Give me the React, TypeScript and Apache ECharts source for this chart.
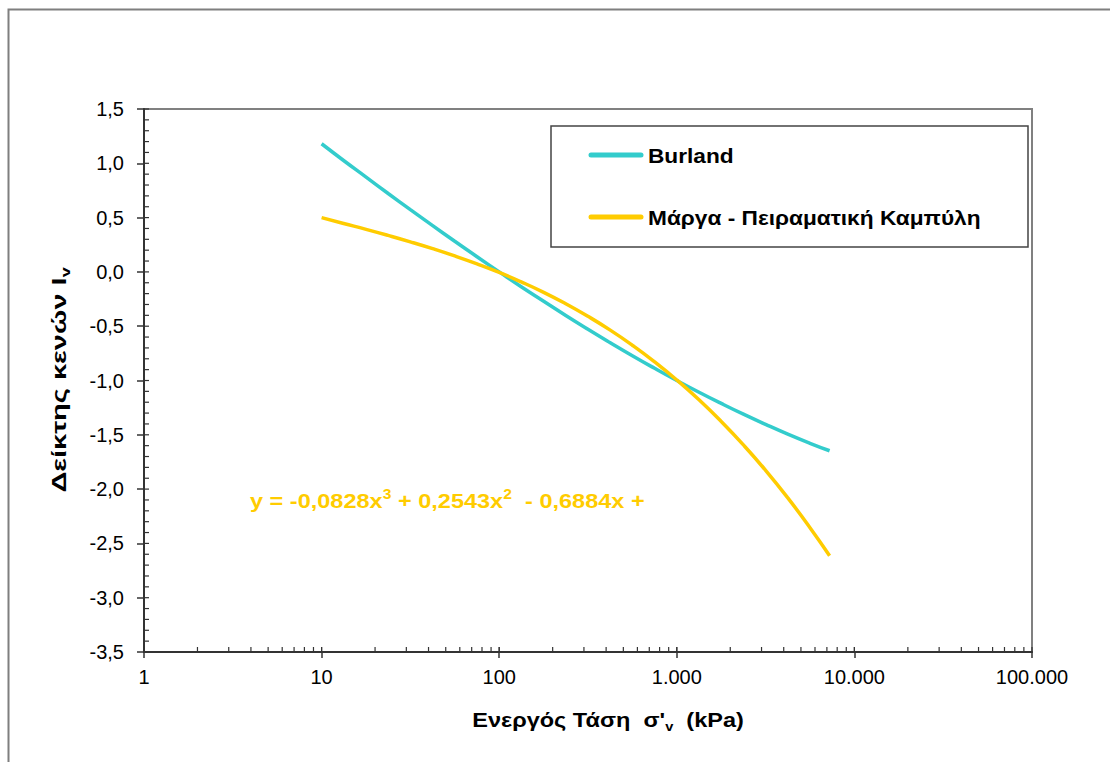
import React, { useEffect, useRef } from "react";
import * as echarts from "echarts";

// Effective stress σ'v (kPa)
const sigma = [10, 13.3, 17.8, 23.7, 31.6, 42.2, 56.2, 75, 100, 133, 178, 237, 316, 422, 562, 750, 1000, 1334, 1778, 2371, 3162, 4217, 5623, 7250];
// Burland intrinsic compression line (Iv)
const burland = [1.18, 1.026, 0.873, 0.722, 0.573, 0.426, 0.282, 0.14, 0.0, -0.137, -0.27, -0.401, -0.528, -0.652, -0.772, -0.888, -1.0, -1.108, -1.211, -1.31, -1.404, -1.494, -1.578, -1.647];
// Marl – experimental curve (Iv)
const marga = [0.5, 0.446, 0.392, 0.336, 0.277, 0.214, 0.147, 0.074, -0.005, -0.092, -0.188, -0.293, -0.409, -0.536, -0.675, -0.828, -0.995, -1.178, -1.377, -1.593, -1.827, -2.081, -2.355, -2.613];

const seriesNames = ["Burland", "Μάργα - Πειραματική Καμπύλη"];
const seriesColors = ["#33CCCC", "#FFCC00"];
const xMinorTicks: number[] = [];
for (let d = 1; d <= 10000; d *= 10) for (let k = 1; k <= 10; k++) xMinorTicks.push(d * k);
const yMinorTicks: number[] = [];
for (let i = -35; i <= 15; i++) yMinorTicks.push(i / 10);

const FONT = "'Liberation Sans', Arial, sans-serif";
const AXIS_COLOR = "#333";

export default function App() {
  const ref = useRef<HTMLDivElement>(null);
  useEffect(() => {
    if (!ref.current) return;
    const chart = echarts.init(ref.current, null, { renderer: "svg" });
    const fmtX = (v: number) => String(Math.round(v)).replace(/\B(?=(\d{3})+(?!\d))/g, ".");
    const fmtY = (v: number) => (Math.round(v * 10) / 10).toFixed(1).replace(".", ",").replace("-0,0", "0,0");
    const bold = (size: number, fill: string, extra: any = {}) => ({ fontSize: size, fontWeight: "bold", fill, fontFamily: FONT, ...extra });
    chart.setOption({
      animation: false,
      textStyle: { fontFamily: FONT },
      grid: {
        left: 144, top: 109, width: 888, height: 543, show: true,
        borderColor: "#808080", borderWidth: 2, backgroundColor: "transparent",
      },
      xAxis: {
        type: "log", logBase: 10, min: 1, max: 100000,
        axisLine: { onZero: false, lineStyle: { color: AXIS_COLOR, width: 2 } },
        axisTick: { show: true, length: 6, lineStyle: { color: AXIS_COLOR, width: 1.5 } },
        axisLabel: { formatter: fmtX, color: "#000", fontSize: 20, margin: 15, fontFamily: FONT },
        splitLine: { show: false },
      },
      yAxis: {
        type: "value", min: -3.5, max: 1.5, interval: 0.5,
        axisLine: { show: true, onZero: false, lineStyle: { color: AXIS_COLOR, width: 2 } },
        axisTick: { show: true, length: 7, lineStyle: { color: AXIS_COLOR, width: 1.5 } },
        axisLabel: { formatter: fmtY, color: "#000", fontSize: 20, margin: 20, fontFamily: FONT },
        splitLine: { show: false },
      },
      series: [
        {
          name: seriesNames[0], type: "line", smooth: true, symbol: "none",
          data: sigma.map((s, i) => [s, burland[i]]),
          lineStyle: { color: seriesColors[0], width: 3.5 }, itemStyle: { color: seriesColors[0] }, z: 3,
        },
        {
          name: seriesNames[1], type: "line", smooth: true, symbol: "none",
          data: sigma.map((s, i) => [s, marga[i]]),
          lineStyle: { color: seriesColors[1], width: 3.5 }, itemStyle: { color: seriesColors[1] }, z: 3,
        },
        {
          type: "custom", silent: true, clip: false,
          data: xMinorTicks.map((v) => [v, -3.5]),
          renderItem: (_p: any, api: any) => {
            const pt = api.coord([api.value(0), -3.5]);
            return { type: "line", shape: { x1: pt[0], y1: pt[1], x2: pt[0], y2: pt[1] - 5 }, style: { stroke: AXIS_COLOR, lineWidth: 1.2 } };
          },
        },
        {
          type: "custom", silent: true, clip: false,
          data: yMinorTicks.map((v) => [1, v]),
          renderItem: (_p: any, api: any) => {
            const pt = api.coord([1, api.value(1)]);
            return { type: "line", shape: { x1: pt[0], y1: pt[1], x2: pt[0] + 5, y2: pt[1] }, style: { stroke: AXIS_COLOR, lineWidth: 1.2 } };
          },
        },
      ],
      graphic: [
        { type: "rect", shape: { x: 8.5, y: 9.5, width: 1300, height: 900 }, style: { fill: "none", stroke: "#7f7f7f", lineWidth: 2 }, silent: true },
        // legend
        { type: "rect", shape: { x: 551, y: 126, width: 477, height: 121 }, style: { fill: "#fff", stroke: "#444", lineWidth: 1.5 }, z: 10, silent: true },
        { type: "line", shape: { x1: 591, y1: 155, x2: 641, y2: 155 }, style: { stroke: seriesColors[0], lineWidth: 5, lineCap: "round" }, z: 11 },
        { type: "line", shape: { x1: 591, y1: 217, x2: 641, y2: 217 }, style: { stroke: seriesColors[1], lineWidth: 5, lineCap: "round" }, z: 11 },
        { type: "text", x: 648, y: 156, scaleX: 1.08, z: 11, style: { text: seriesNames[0], verticalAlign: "middle", ...bold(21, "#000") } },
        { type: "text", x: 648, y: 218, scaleX: 1.08, z: 11, style: { text: seriesNames[1], verticalAlign: "middle", ...bold(21, "#000") } },
        // trend-line equation
        {
          type: "text", x: 250, y: 499, scaleX: 1.12, z: 5,
          style: {
            text: "{b|y = -0,0828x}{s|3}{b| + 0,2543x}{s|2}{b|  - 0,6884x +}",
            verticalAlign: "middle",
            rich: {
              b: bold(21, "#FFCC00", { lineHeight: 24, verticalAlign: "bottom" }),
              s: bold(14, "#FFCC00", { lineHeight: 14, verticalAlign: "top" }),
            },
          },
        },
        // y axis title
        {
          type: "text", x: 60, y: 380, rotation: Math.PI / 2, scaleX: 1.38,
          style: {
            text: "{b|Δείκτης κενών I}{s|v}",
            align: "center", verticalAlign: "middle",
            rich: {
              b: bold(21, "#000", { lineHeight: 24, verticalAlign: "top" }),
              s: bold(13, "#000", { lineHeight: 13, verticalAlign: "bottom" }),
            },
          },
        },
        // x axis title
        {
          type: "text", x: 608, y: 721, scaleX: 1.12,
          style: {
            text: "{b|Ενεργός Τάση  σ'}{s|v}{b|  (kPa)}",
            align: "center", verticalAlign: "middle",
            rich: {
              b: bold(21, "#000", { lineHeight: 24, verticalAlign: "top" }),
              s: bold(13, "#000", { lineHeight: 13, verticalAlign: "bottom" }),
            },
          },
        },
      ],
    });
    return () => chart.dispose();
  }, []);
  return <div ref={ref} style={{ position: "absolute", left: 0, top: 0, width: 1110, height: 762 }} />;
}
